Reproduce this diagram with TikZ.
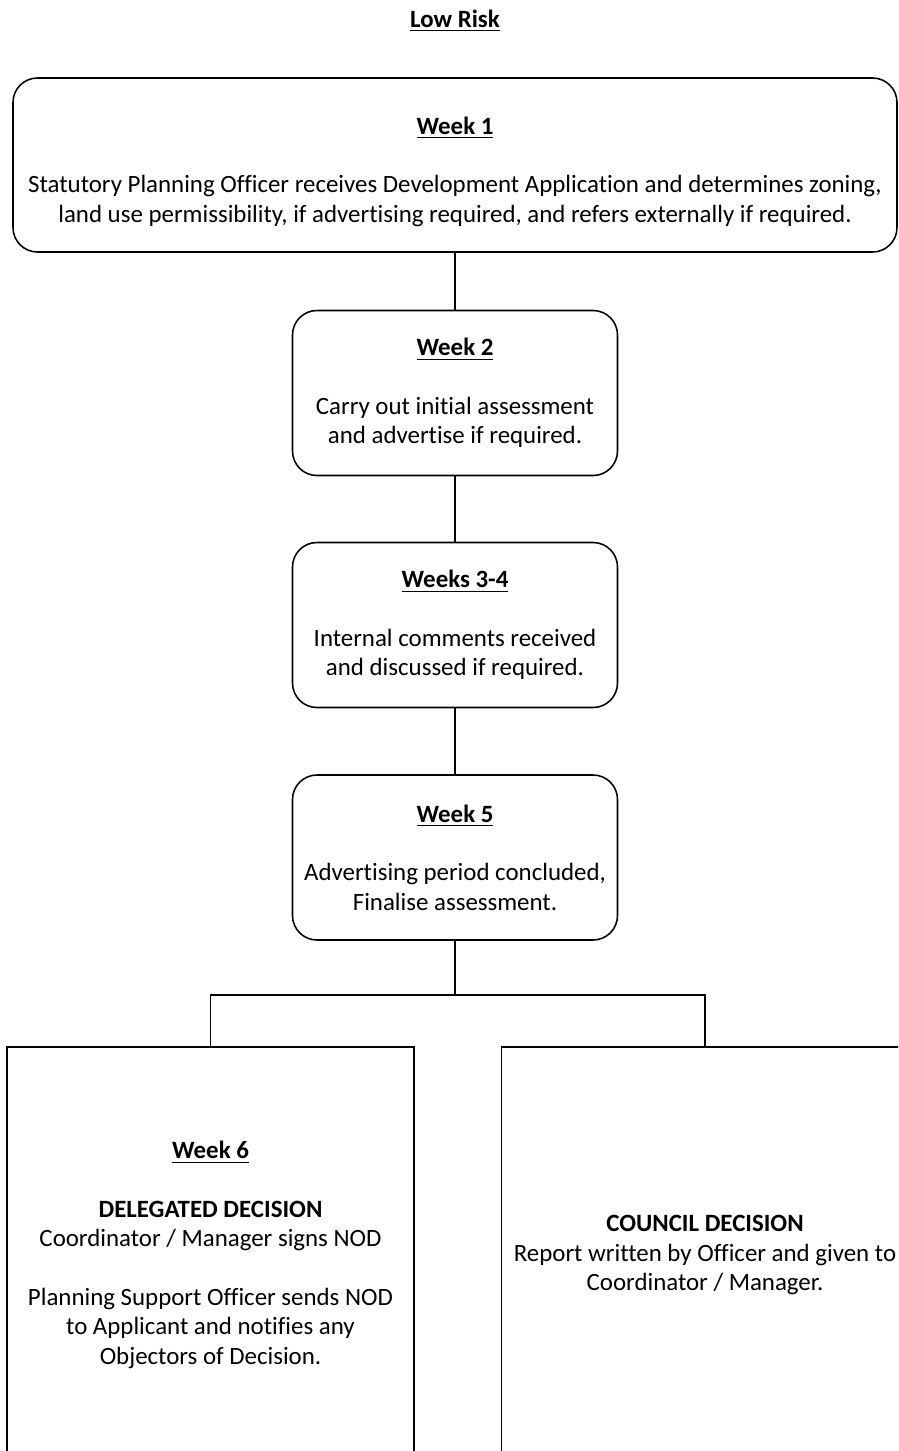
\documentclass[tikz,border=0pt]{standalone}
\usepackage{fontspec}
\setmainfont[Ligatures=NoCommon]{Carlito}
\usepackage{tikz}
\newcommand{\wkhead}[1]{\textbf{\underline{#1}}}

\begin{document}
\begin{tikzpicture}
        [
            x=0.45pt, y=-0.45pt,
            every node/.style={font=\fontsize{11.2}{13.2}\selectfont, align=center, inner sep=0pt},
            stagebox/.style={rectangle, rounded corners=11pt, draw=black, line width=0.7pt, minimum width=146.25pt, minimum height=74.25pt},
            decisionbox/.style={rectangle, draw=black, line width=0.7pt, minimum width=183pt, minimum height=187.2pt},
            link/.style={draw=black, line width=0.7pt},
        ]
    \useasboundingbox (0,0) rectangle (898,1451);
    \clip (0,0) rectangle (898,1451);

    \node (title) [anchor=base] at (455,27) {\wkhead{Low Risk}};

    \node (wk1) [stagebox, minimum width=397.8pt, minimum height=78.3pt] at (455,165) {\rule{0pt}{13.8pt}\wkhead{Week 1}\\[13.2pt]
        Statutory Planning Officer receives Development Application and determines zoning,\\
        land use permissibility, if advertising required, and refers externally if required.};
    \node (wk2) [stagebox] at (455,393) {\wkhead{Week 2}\\[13.2pt]
        Carry out initial assessment\\ and advertise if required.};
    \node (wk34) [stagebox] at (455,625) {\wkhead{Weeks 3-4}\\[13.2pt]
        Internal comments received\\ and discussed if required.};
    \node (wk5) [stagebox] at (455,857.5) {\wkhead{Week 5}\\[13.2pt]
        Advertising period concluded,\\ Finalise assessment.};

    \node (delegated) [decisionbox] at (210.5,1255) {\wkhead{Week 6}\\[13.2pt]
        \textbf{DELEGATED DECISION}\\
        Coordinator / Manager signs NOD\\[13.2pt]
        Planning Support Officer sends NOD\\
        to Applicant and notifies any\\
        Objectors of Decision.};
    \node (council) [decisionbox] at (705,1255) {\textbf{COUNCIL DECISION}\\
        Report written by Officer and given to\\
        Coordinator / Manager.};

    % chain of weeks
    \foreach \a/\b in {wk1/wk2, wk2/wk34, wk34/wk5}
        \draw[link] (\a) -- (\b);

    % split into the two decisions
    \coordinate (fork) at (455,995);
    \draw[link] (wk5) -- (fork);
    \draw[link] (delegated.north) |- (fork) -| (council.north);
\end{tikzpicture}
\end{document}
